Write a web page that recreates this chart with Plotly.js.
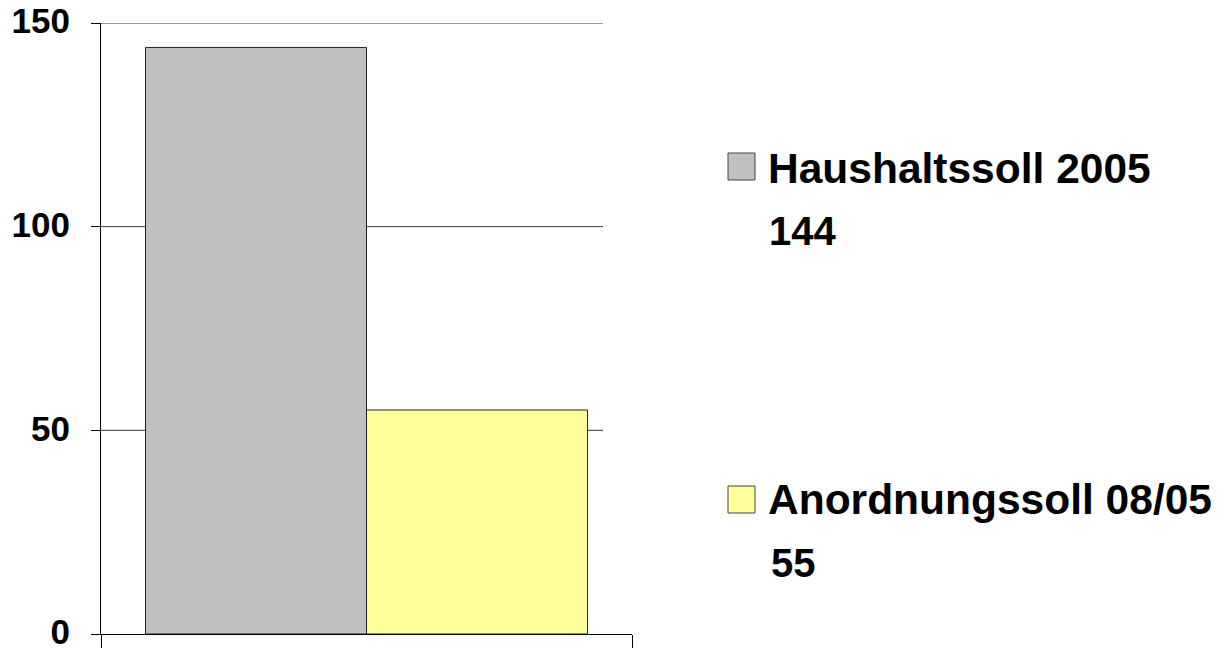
<!DOCTYPE html>
<html>
<head>
<meta charset="utf-8">
<script src="https://cdn.plot.ly/plotly-3.0.1.min.js"></script>
<style>html,body{margin:0;padding:0;background:#fff;}#chart{width:1225px;height:649px;}</style>
</head>
<body>
<div id="chart"></div>
<script>
const categories = [''];
const seriesNames = ['Haushaltssoll 2005', 'Anordnungssoll 08/05'];
const seriesValues = [144, 55];
const seriesColors = ['#C0C0C0', '#FFFF99'];
const yTickVals = [0, 50, 100, 150];
const yTickText = ['0', '50', '100', '150'];

const W = 1225, H = 649;
const L = 101, R = 632, T = 23, B = 634;
const px = x => (x - L) / (R - L);
const py = y => (B - y) / (B - T);
const FONT = 'Arial, "Liberation Sans", sans-serif';

const traces = seriesNames.map((n, i) => ({
  type: 'bar',
  x: categories,
  y: [seriesValues[i]],
  name: n,
  marker: {color: seriesColors[i], line: {color: '#222', width: 1}},
  showlegend: false,
  hoverinfo: 'none'
}));

const shapes = [];
yTickVals.filter(v => v > 0).forEach(v => {
  shapes.push({type: 'line', layer: 'below', xref: 'paper', yref: 'y',
    x0: 0, x1: px(603), y0: v, y1: v, line: {color: '#333', width: 1}});
});
// legend boxes
const boxTops = [153, 486];
const nameY = [168.5, 499];
const valY = [231, 562.5];
const valX = [769, 771];
const annotations = [];
seriesNames.forEach((n, i) => {
  shapes.push({type: 'rect', xref: 'paper', yref: 'paper',
    x0: px(728), x1: px(755), y0: py(boxTops[i]), y1: py(boxTops[i] + 27),
    fillcolor: seriesColors[i], line: {color: '#444', width: 1}});
  annotations.push({xref: 'paper', yref: 'paper', x: px(766), y: py(nameY[i]),
    xanchor: 'left', yanchor: 'middle', showarrow: false, text: n,
    font: {family: FONT, size: 42.5, color: '#000', weight: 'bold'}});
  annotations.push({xref: 'paper', yref: 'paper', x: px(valX[i] - 2), y: py(valY[i]),
    xanchor: 'left', yanchor: 'middle', showarrow: false, text: String(seriesValues[i]),
    font: {family: FONT, size: 40, color: '#000', weight: 'bold'}});
});

const layout = {
  width: W, height: H,
  margin: {l: L, r: W - R, t: T, b: H - B, pad: 0},
  paper_bgcolor: '#fff', plot_bgcolor: 'rgba(0,0,0,0)',
  barmode: 'group', bargap: 0.1676, bargroupgap: 0,
  showlegend: false,
  xaxis: {type: 'category', range: [-0.5, 0.5], showline: true, linecolor: '#000', linewidth: 1,
    ticks: 'outside', ticklen: 13, tickcolor: '#000', tickson: 'boundaries',
    showticklabels: false, showgrid: false, zeroline: false, fixedrange: true},
  yaxis: {range: [0, 150], tickvals: yTickVals, ticktext: yTickText, showline: true,
    linecolor: '#000', linewidth: 1, ticks: 'outside', ticklen: 9, tickcolor: '#000',
    showgrid: false, zeroline: false, ticklabelstandoff: 14, ticklabeloverflow: 'allow',
    ticklabelshift: -2,
    tickfont: {family: FONT, size: 35, color: '#000', weight: 'bold'}, fixedrange: true},
  shapes: shapes,
  annotations: annotations
};

Plotly.newPlot('chart', traces, layout, {displayModeBar: false, staticPlot: true});
</script>
</body>
</html>
